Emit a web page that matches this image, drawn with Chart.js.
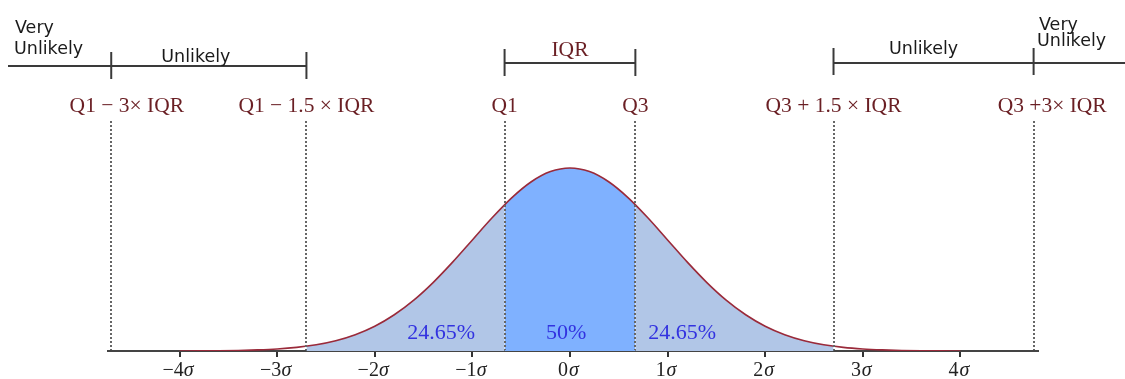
<!DOCTYPE html>
<html><head><meta charset="utf-8">
<script src="https://cdn.jsdelivr.net/npm/chart.js@4"></script>
<style>html,body{margin:0;padding:0;background:#fff}#wrap{width:1125px;height:379px;position:relative}</style>
</head><body><div id="wrap"><canvas id="c"></canvas></div>
<script>
// ---- data ----
const sigmaX = [-4,-3.8,-3.6,-3.4,-3.2,-3,-2.8,-2.6,-2.4,-2.2,-2,-1.8,-1.6,-1.4,-1.2,-1,-0.8,-0.6,-0.4,-0.2,0,
                0.2,0.4,0.6,0.8,1,1.2,1.4,1.6,1.8,2,2.2,2.4,2.6,2.8,3,3.2,3.4,3.6,3.8,4];
const density = [0.0001,0.0003,0.0006,0.0012,0.0024,0.0044,0.0079,0.0136,0.0224,0.0355,0.0540,0.0790,0.1109,0.1497,0.1942,0.2420,0.2897,0.3332,0.3683,0.3910,0.3989,
                 0.3910,0.3683,0.3332,0.2897,0.2420,0.1942,0.1497,0.1109,0.0790,0.0540,0.0355,0.0224,0.0136,0.0079,0.0044,0.0024,0.0012,0.0006,0.0003,0.0001];
const sigmaTicks = [-4,-3,-2,-1,0,1,2,3,4];
const tickNumbers = ['\u22124','\u22123','\u22122','\u22121','0','1','2','3','4'];
const tickUnit = '\u03c3';
const fenceNames = ['Q1 \u2212 3\u00d7 IQR','Q1 \u2212 1.5 \u00d7 IQR','Q1','Q3','Q3 + 1.5 \u00d7 IQR','Q3 +3\u00d7 IQR'];
const fenceX = [-4.7,-2.7,-0.67,0.67,2.7,4.75];
const fenceLabelX = [-4.54,-2.7,-0.67,0.67,2.7,4.94];
const fenceDensity = [0,0.0104,0.3187,0.3187,0.0104,0];
const regionLabels = ['24.65%','50%','24.65%'];
const regionLabelX = [-1.32,-0.04,1.15];
const regionColors = ['#b1c6e7','#7fb1ff','#b1c6e7'];

// ---- build the filled regions from the arrays above ----
function region(a, b) {
  const pts = [{x: fenceX[a], y: fenceDensity[a]}];
  sigmaX.forEach((x, i) => { if (x > fenceX[a] + 0.02 && x < fenceX[b] - 0.02) pts.push({x, y: density[i]}); });
  pts.push({x: fenceX[b], y: fenceDensity[b]});
  return pts;
}
const curve = sigmaX.map((x, i) => ({x, y: density[i]}));

const annot = {
  id: 'annot',
  afterDraw(chart) {
    const ctx = chart.ctx, xs = chart.scales.x, ys = chart.scales.y;
    const px = v => xs.getPixelForValue(v);
    const base = ys.getPixelForValue(0);
    ctx.save();
    // dotted fence lines
    ctx.setLineDash([2, 2]);
    ctx.strokeStyle = '#666';
    ctx.lineWidth = 2;
    fenceX.forEach(v => {
      const x = Math.round(px(v));
      ctx.beginPath(); ctx.moveTo(x, 121); ctx.lineTo(x, base - 1); ctx.stroke();
    });
    ctx.setLineDash([]);
    // brackets
    ctx.strokeStyle = '#3a3a3a';
    ctx.lineWidth = 2;
    const seg = (x1, x2, y) => { ctx.beginPath(); ctx.moveTo(x1, y); ctx.lineTo(x2, y); ctx.stroke(); };
    const vt = (x, y1, y2) => { ctx.beginPath(); ctx.moveTo(x, y1); ctx.lineTo(x, y2); ctx.stroke(); };
    seg(8, px(fenceX[1]), 66); vt(px(fenceX[0]), 52, 79); vt(px(fenceX[1]), 52, 79);
    seg(px(fenceX[2]), px(fenceX[3]), 63); vt(px(fenceX[2]), 49, 76); vt(px(fenceX[3]), 49, 76);
    seg(px(fenceX[4]), 1125, 63); vt(px(fenceX[4]), 48, 75); vt(px(fenceX[5]), 48, 75);
    // zone texts
    ctx.fillStyle = '#1a1a1a';
    ctx.font = '17.5px "DejaVu Sans"';
    ctx.textBaseline = 'alphabetic';
    ctx.textAlign = 'left';
    ctx.fillText('Very', 15, 33); ctx.fillText('Unlikely', 14, 54);
    ctx.fillText('Very', 1039, 30); ctx.fillText('Unlikely', 1037, 46);
    ctx.textAlign = 'center';
    ctx.fillText('Unlikely', (px(fenceX[0]) + px(fenceX[1])) / 2 - 13, 62);
    ctx.fillText('Unlikely', (px(fenceX[4]) + px(fenceX[5])) / 2 - 10, 54);
    // IQR and fence names
    ctx.fillStyle = '#6a1f24';
    ctx.font = '21.5px "Liberation Serif"';
    ctx.fillText('IQR', (px(fenceX[2]) + px(fenceX[3])) / 2, 56);
    fenceNames.forEach((t, i) => ctx.fillText(t, px(fenceLabelX[i]), 112));
    // percentages
    ctx.fillStyle = '#3232e0';
    ctx.font = '22px "Liberation Serif"';
    regionLabels.forEach((t, i) => ctx.fillText(t, px(regionLabelX[i]), ys.getPixelForValue(0.026)));
    // tick labels: upright number, italic sigma
    ctx.fillStyle = '#222';
    ctx.textAlign = 'left';
    const fN = '20px "Liberation Serif"', fS = 'italic 20px "Liberation Serif"';
    sigmaTicks.forEach((v, i) => {
      ctx.font = fN; const w1 = ctx.measureText(tickNumbers[i] + ' ').width * 0.93;
      ctx.font = fS; const w2 = ctx.measureText(tickUnit).width;
      const x0 = px(v) - (w1 + w2) / 2;
      ctx.font = fN; ctx.fillText(tickNumbers[i], x0, 376);
      ctx.font = fS; ctx.fillText(tickUnit, x0 + w1 - ctx.measureText(' ').width * 0.6, 376);
    });
    ctx.restore();
  }
};

new Chart(document.getElementById('c'), {
  type: 'line',
  data: {
    datasets: [
      {data: curve, borderColor: '#9a2a3a', borderWidth: 1.6, pointRadius: 0, fill: false, cubicInterpolationMode: 'monotone'},
      {data: region(1, 2), backgroundColor: regionColors[0], borderWidth: 0, pointRadius: 0, fill: 'origin', cubicInterpolationMode: 'monotone'},
      {data: region(2, 3), backgroundColor: regionColors[1], borderWidth: 0, pointRadius: 0, fill: 'origin', cubicInterpolationMode: 'monotone'},
      {data: region(3, 4), backgroundColor: regionColors[2], borderWidth: 0, pointRadius: 0, fill: 'origin', cubicInterpolationMode: 'monotone'}
    ]
  },
  options: {
    responsive: true,
    maintainAspectRatio: false,
    animation: false,
    events: [],
    layout: {padding: {left: 108, right: 87, top: 0, bottom: 0}},
    plugins: {legend: {display: false}, tooltip: {enabled: false}},
    scales: {
      x: {
        type: 'linear', min: -4.733, max: 4.795,
        afterBuildTicks: s => { s.ticks = sigmaTicks.map(v => ({value: v})); },
        afterFit: s => { s.height = 28; },
        ticks: {display: false, autoSkip: false, maxRotation: 0},
        grid: {drawOnChartArea: false, drawTicks: true, tickLength: 6, color: '#333', lineWidth: 2},
        border: {display: true, color: '#444', width: 2}
      },
      y: {display: false, min: 0, max: 0.765}
    }
  },
  plugins: [annot]
});
</script>
</body></html>
